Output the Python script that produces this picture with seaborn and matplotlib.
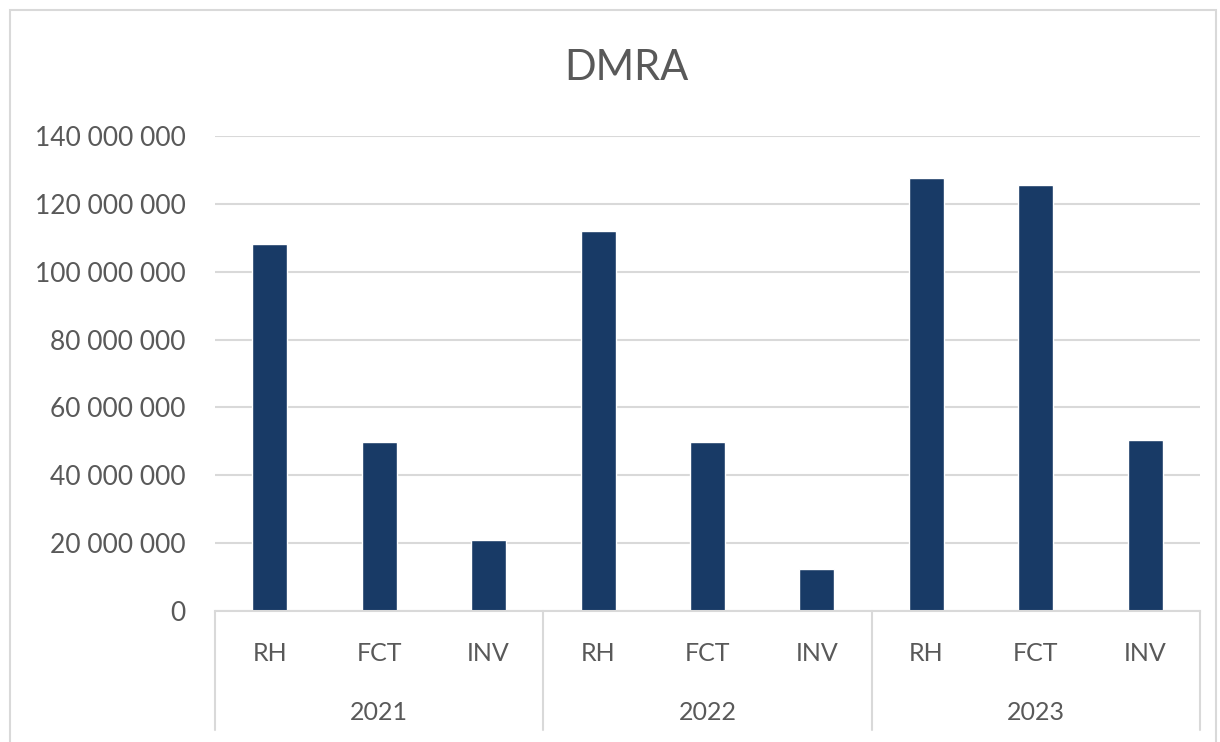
import pandas as pd
import numpy as np
import matplotlib
matplotlib.use("Agg")
import matplotlib.pyplot as plt
import matplotlib.ticker as mticker
from matplotlib.patches import Rectangle
import seaborn as sns

years = ["2021", "2022", "2023"]
categories = ["RH", "FCT", "INV"]
values_2021 = [108_200_000, 49_800_000, 20_900_000]
values_2022 = [112_000_000, 49_800_000, 12_400_000]
values_2023 = [127_600_000, 125_600_000, 50_400_000]

rows = []
for yr, vals in zip(years, [values_2021, values_2022, values_2023]):
    for cat, v in zip(categories, vals):
        rows.append({"year": yr, "cat": cat, "key": f"{yr} {cat}", "value": v})
df = pd.DataFrame(rows)

sns.set_style("white")
plt.rcParams['font.family'] = ['Lato', 'DejaVu Sans']
text_color = '#595959'
grid_color = '#d9d9d9'
bar_color = '#183a66'

W, H = 1220, 742
fig = plt.figure(figsize=(W / 100, H / 100), dpi=100)
ax = fig.add_axes([215 / W, 1 - 611 / H, (1200 - 215) / W, (611 - 136) / H])

sns.barplot(data=df, x="key", y="value", order=list(df["key"]), color=bar_color,
            width=0.32, saturation=1, ax=ax)

ax.set_ylim(0, 140_000_000)
ax.set_xlim(-0.5, len(df) - 0.5)
ax.yaxis.set_major_locator(mticker.MultipleLocator(20_000_000))
ax.yaxis.set_major_formatter(mticker.FuncFormatter(lambda v, p: f"{v:,.0f}".replace(",", " ")))
ax.grid(axis='y', color=grid_color, linewidth=1.5)
ax.set_axisbelow(True)
for s in ['top', 'right', 'left']:
    ax.spines[s].set_visible(False)
ax.spines['bottom'].set_color(grid_color)
ax.spines['bottom'].set_linewidth(1.5)

ax.set_xticks(range(len(df)))
ax.set_xticklabels(list(df["cat"]))
ax.tick_params(axis='x', length=0, pad=22, labelsize=18, labelcolor=text_color)
ax.tick_params(axis='y', length=0, pad=21, labelsize=19, labelcolor=text_color)
ax.set_xlabel("")
ax.set_ylabel("")

# year group labels and separators
trans = ax.get_xaxis_transform()
n = len(categories)
for i, yr in enumerate(years):
    ax.text(i * n + (n - 1) / 2, -0.213, yr, transform=trans, ha='center', va='center',
            fontsize=18, color=text_color)
for i in range(len(years) + 1):
    ax.plot([i * n - 0.5, i * n - 0.5], [0, -0.25], transform=trans, color=grid_color,
            linewidth=1.5, clip_on=False)

fig.text(626 / W, 1 - 68 / H, "DMRA", ha='center', va='center', fontsize=30, color=text_color)

fig.patches.append(Rectangle((10 / W, -0.05), (1216 - 10) / W, 1.05 - 10 / H,
                             transform=fig.transFigure, fill=False, edgecolor=grid_color,
                             linewidth=1.5))

fig.savefig("out.png", dpi=100)
